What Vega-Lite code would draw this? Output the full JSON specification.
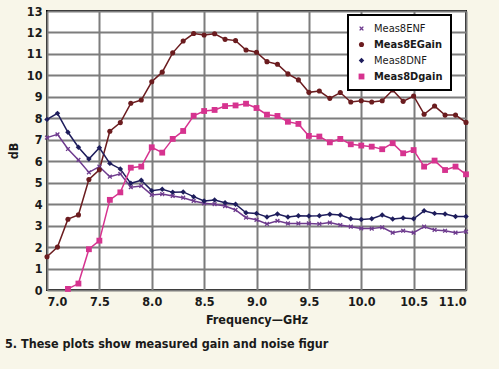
{
  "$schema": "https://vega.github.io/schema/vega-lite/v6.json",
  "width": 419,
  "height": 279,
  "autosize": {"type": "none"},
  "padding": {"left": 47, "top": 11, "right": 33, "bottom": 79},
  "background": "#f8f6e9",
  "title": {
    "text": "5. These plots show measured gain and noise figur",
    "orient": "bottom",
    "anchor": "start",
    "frame": "group",
    "dx": -42,
    "offset": 12,
    "font": "DejaVu Sans Condensed, sans-serif",
    "fontSize": 12.5,
    "fontWeight": "bold",
    "color": "#1a1a1a"
  },
  "data": {
    "values": [
      {"f": 7.0, "Meas8ENF": 7.1, "Meas8EGain": 1.55, "Meas8DNF": 7.95, "Meas8Dgain": null},
      {"f": 7.1, "Meas8ENF": 7.25, "Meas8EGain": 2.0, "Meas8DNF": 8.23, "Meas8Dgain": null},
      {"f": 7.2, "Meas8ENF": 6.57, "Meas8EGain": 3.3, "Meas8DNF": 7.35, "Meas8Dgain": 0.05},
      {"f": 7.3, "Meas8ENF": 6.06, "Meas8EGain": 3.5, "Meas8DNF": 6.65, "Meas8Dgain": 0.3},
      {"f": 7.4, "Meas8ENF": 5.48, "Meas8EGain": 5.15, "Meas8DNF": 6.1, "Meas8Dgain": 1.9},
      {"f": 7.5, "Meas8ENF": 5.75, "Meas8EGain": 5.6, "Meas8DNF": 6.63, "Meas8Dgain": 2.3},
      {"f": 7.6, "Meas8ENF": 5.28, "Meas8EGain": 7.4, "Meas8DNF": 5.9, "Meas8Dgain": 4.2},
      {"f": 7.7, "Meas8ENF": 5.41, "Meas8EGain": 7.8, "Meas8DNF": 5.64, "Meas8Dgain": 4.55},
      {"f": 7.8, "Meas8ENF": 4.79, "Meas8EGain": 8.7, "Meas8DNF": 4.97, "Meas8Dgain": 5.7},
      {"f": 7.9, "Meas8ENF": 4.85, "Meas8EGain": 8.85, "Meas8DNF": 5.11, "Meas8Dgain": 5.75},
      {"f": 8.0, "Meas8ENF": 4.43, "Meas8EGain": 9.7, "Meas8DNF": 4.63, "Meas8Dgain": 6.65},
      {"f": 8.1, "Meas8ENF": 4.47, "Meas8EGain": 10.15, "Meas8DNF": 4.69, "Meas8Dgain": 6.4},
      {"f": 8.2, "Meas8ENF": 4.38, "Meas8EGain": 11.05, "Meas8DNF": 4.55, "Meas8Dgain": 7.04},
      {"f": 8.3, "Meas8ENF": 4.3, "Meas8EGain": 11.6, "Meas8DNF": 4.57, "Meas8Dgain": 7.41},
      {"f": 8.4, "Meas8ENF": 4.15, "Meas8EGain": 11.95, "Meas8DNF": 4.35, "Meas8Dgain": 8.12},
      {"f": 8.5, "Meas8ENF": 4.04, "Meas8EGain": 11.88, "Meas8DNF": 4.15, "Meas8Dgain": 8.34},
      {"f": 8.6, "Meas8ENF": 4.0, "Meas8EGain": 11.94, "Meas8DNF": 4.19, "Meas8Dgain": 8.39},
      {"f": 8.7, "Meas8ENF": 3.91, "Meas8EGain": 11.68, "Meas8DNF": 4.07, "Meas8Dgain": 8.57},
      {"f": 8.8, "Meas8ENF": 3.73, "Meas8EGain": 11.62, "Meas8DNF": 4.0, "Meas8Dgain": 8.6},
      {"f": 8.9, "Meas8ENF": 3.37, "Meas8EGain": 11.18, "Meas8DNF": 3.6, "Meas8Dgain": 8.68},
      {"f": 9.0, "Meas8ENF": 3.27, "Meas8EGain": 11.08, "Meas8DNF": 3.57, "Meas8Dgain": 8.48},
      {"f": 9.1, "Meas8ENF": 3.08, "Meas8EGain": 10.64, "Meas8DNF": 3.4, "Meas8Dgain": 8.17},
      {"f": 9.2, "Meas8ENF": 3.22, "Meas8EGain": 10.52, "Meas8DNF": 3.54, "Meas8Dgain": 8.11},
      {"f": 9.3, "Meas8ENF": 3.1, "Meas8EGain": 10.07, "Meas8DNF": 3.4, "Meas8Dgain": 7.84},
      {"f": 9.4, "Meas8ENF": 3.1, "Meas8EGain": 9.79, "Meas8DNF": 3.46, "Meas8Dgain": 7.74},
      {"f": 9.5, "Meas8ENF": 3.1, "Meas8EGain": 9.21, "Meas8DNF": 3.45, "Meas8Dgain": 7.18},
      {"f": 9.6, "Meas8ENF": 3.08, "Meas8EGain": 9.27, "Meas8DNF": 3.46, "Meas8Dgain": 7.15},
      {"f": 9.7, "Meas8ENF": 3.14, "Meas8EGain": 8.93, "Meas8DNF": 3.53, "Meas8Dgain": 6.88},
      {"f": 9.8, "Meas8ENF": 3.03, "Meas8EGain": 9.2, "Meas8DNF": 3.49, "Meas8Dgain": 7.04},
      {"f": 9.9, "Meas8ENF": 2.95, "Meas8EGain": 8.76, "Meas8DNF": 3.32, "Meas8Dgain": 6.79},
      {"f": 10.0, "Meas8ENF": 2.87, "Meas8EGain": 8.82, "Meas8DNF": 3.29, "Meas8Dgain": 6.73},
      {"f": 10.1, "Meas8ENF": 2.86, "Meas8EGain": 8.76, "Meas8DNF": 3.32, "Meas8Dgain": 6.68},
      {"f": 10.2, "Meas8ENF": 2.92, "Meas8EGain": 8.82, "Meas8DNF": 3.49, "Meas8Dgain": 6.56},
      {"f": 10.3, "Meas8ENF": 2.67, "Meas8EGain": 9.32, "Meas8DNF": 3.31, "Meas8Dgain": 6.84},
      {"f": 10.4, "Meas8ENF": 2.76, "Meas8EGain": 8.79, "Meas8DNF": 3.36, "Meas8Dgain": 6.37},
      {"f": 10.5, "Meas8ENF": 2.67, "Meas8EGain": 9.04, "Meas8DNF": 3.32, "Meas8Dgain": 6.52},
      {"f": 10.6, "Meas8ENF": 2.95, "Meas8EGain": 8.19, "Meas8DNF": 3.69, "Meas8Dgain": 5.75},
      {"f": 10.7, "Meas8ENF": 2.8, "Meas8EGain": 8.57, "Meas8DNF": 3.57, "Meas8Dgain": 6.03},
      {"f": 10.8, "Meas8ENF": 2.76, "Meas8EGain": 8.15, "Meas8DNF": 3.54, "Meas8Dgain": 5.59},
      {"f": 10.9, "Meas8ENF": 2.67, "Meas8EGain": 8.15, "Meas8DNF": 3.42, "Meas8Dgain": 5.75},
      {"f": 11.0, "Meas8ENF": 2.72, "Meas8EGain": 7.81, "Meas8DNF": 3.42, "Meas8Dgain": 5.39}
    ]
  },
  "transform": [
    {"fold": ["Meas8ENF", "Meas8EGain", "Meas8DNF", "Meas8Dgain"], "as": ["s", "v"]},
    {"filter": "datum.v != null"}
  ],
  "encoding": {
    "x": {
      "field": "f",
      "type": "quantitative",
      "scale": {"domain": [7, 11], "nice": false, "zero": false},
      "axis": {
        "values": [7, 7.5, 8, 8.5, 9, 9.5, 10, 10.5, 11],
        "format": ".1f",
        "labelFlush": true,
        "title": "Frequency\u2014GHz",
        "titlePadding": 6
      }
    },
    "y": {
      "field": "v",
      "type": "quantitative",
      "scale": {"domain": [0, 13], "nice": false},
      "axis": {
        "values": [0, 1, 2, 3, 4, 5, 6, 7, 8, 9, 10, 11, 12, 13],
        "title": "dB",
        "titlePadding": 6
      }
    }
  },
  "layer": [
    {
      "mark": {"type": "line", "strokeWidth": 1.5},
      "encoding": {
        "color": {
          "field": "s",
          "type": "nominal",
          "scale": {
            "domain": ["Meas8ENF", "Meas8EGain", "Meas8DNF", "Meas8Dgain"],
            "range": ["#6e3b8e", "#6b1c1f", "#1e1d5c", "#d6338f"]
          },
          "legend": {
            "title": null,
            "orient": "none",
            "legendX": 301,
            "legendY": 4,
            "fillColor": "white",
            "strokeColor": "black",
            "padding": 8,
            "symbolSize": 100,
            "labelOffset": 7,
            "rowPadding": 4,
            "labelFont": "DejaVu Sans Condensed, sans-serif",
            "labelFontSize": 11,
            "labelColor": "#1a1a1a",
            "encode": {
              "legend": {"update": {"strokeWidth": {"value": 2}}},
              "symbols": {
                "update": {
                  "shape": {"signal": "datum.value == 'Meas8EGain' ? 'M-1.7,-0.2L1.7,-0.2L1.7,0.2L-1.7,0.2Z M-0.55,-0.23L-0.23,-0.55L0.23,-0.55L0.55,-0.23L0.55,0.23L0.23,0.55L-0.23,0.55L-0.55,0.23Z' : datum.value == 'Meas8Dgain' ? 'M-1.7,-0.2L1.7,-0.2L1.7,0.2L-1.7,0.2Z M-0.5,-0.5L0.5,-0.5L0.5,0.5L-0.5,0.5Z' : datum.value == 'Meas8DNF' ? 'M-1.7,-0.2L1.7,-0.2L1.7,0.2L-1.7,0.2Z M0,-0.55L0.55,0L0,0.55L-0.55,0Z' : 'M-1.7,-0.2L1.7,-0.2L1.7,0.2L-1.7,0.2Z M-0.5,-0.3L-0.3,-0.5L0,-0.2L0.3,-0.5L0.5,-0.3L0.2,0L0.5,0.3L0.3,0.5L0,0.2L-0.3,0.5L-0.5,0.3L-0.2,0Z'"},
                  "size": {"value": 100},
                  "fill": {"signal": "scale('color', datum.value)"},
                  "stroke": {"value": "transparent"},
                  "strokeWidth": {"value": 0},
                  "opacity": {"value": 1}
                }
              },
              "labels": {
                "update": {
                  "fontWeight": {"signal": "indexof(datum.value, 'ain') > 0 ? 'bold' : 'normal'"}
                }
              }
            }
          }
        }
      }
    },
    {
      "mark": {"type": "point", "filled": true, "opacity": 1},
      "encoding": {
        "color": {"field": "s", "type": "nominal", "legend": null},
        "shape": {
          "field": "s",
          "type": "nominal",
          "scale": {
            "domain": ["Meas8ENF", "Meas8EGain", "Meas8DNF", "Meas8Dgain"],
            "range": ["M-1,-0.6L-0.6,-1L0,-0.4L0.6,-1L1,-0.6L0.4,0L1,0.6L0.6,1L0,0.4L-0.6,1L-1,0.6L-0.4,0Z", "circle", "diamond", "square"]
          },
          "legend": null
        },
        "size": {
          "field": "s",
          "type": "nominal",
          "scale": {
            "domain": ["Meas8ENF", "Meas8EGain", "Meas8DNF", "Meas8Dgain"],
            "range": [22, 34, 24, 34]
          },
          "legend": null
        }
      }
    }
  ],
  "config": {
    "font": "DejaVu Sans Condensed, sans-serif",
    "view": {"stroke": "black", "strokeWidth": 2, "fill": "white"},
    "axis": {
      "grid": true,
      "gridColor": "#7d7d7d",
      "gridWidth": 2,
      "gridOpacity": 1,
      "domain": false,
      "ticks": false,
      "labelPadding": 5,
      "labelFontSize": 12.5,
      "labelFontWeight": "bold",
      "labelColor": "#1a1a1a",
      "titleFontSize": 12.5,
      "titleFontWeight": "bold",
      "titleColor": "#1a1a1a"
    }
  }
}
